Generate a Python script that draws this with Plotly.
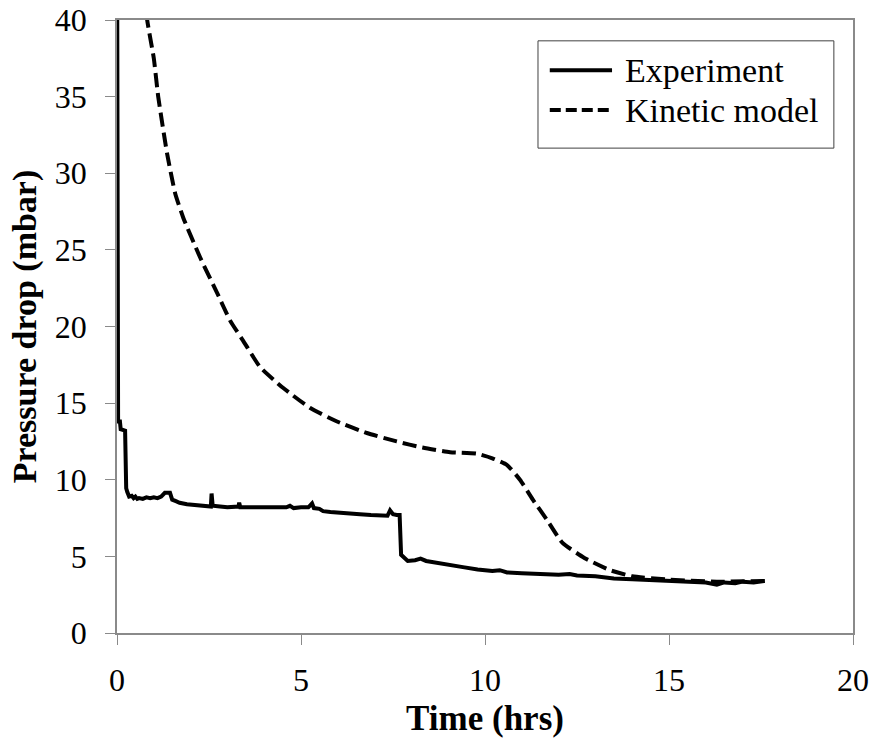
import plotly.graph_objects as go

exp_t = [0.0, 0.01, 0.03, 0.08, 0.1, 0.22, 0.25, 0.28, 0.33, 0.4, 0.45, 0.5, 0.55, 0.6, 0.7, 0.8, 0.9,
         1.0, 1.1, 1.2, 1.3, 1.44, 1.5, 1.6, 1.7, 1.9, 2.1, 2.3, 2.5, 2.55, 2.57, 2.6, 2.8, 3.0, 3.3,
         3.32, 3.35, 3.7, 4.0, 4.3, 4.6, 4.7, 4.8, 5.0, 5.2, 5.3, 5.35, 5.5, 5.6, 5.8, 6.0, 6.3, 6.6,
         6.9, 7.2, 7.35, 7.42, 7.5, 7.6, 7.68, 7.72, 7.8, 7.9, 8.1, 8.25, 8.4, 8.7, 9.0, 9.2, 9.4,
         9.8, 10.2, 10.4, 10.6, 11.0, 11.5, 12.0, 12.3, 12.5, 13.0, 13.5, 14.0, 14.5, 15.0, 15.5,
         16.0, 16.3, 16.5, 16.8, 17.0, 17.3, 17.6]
exp_p = [48, 20, 13.8, 13.8, 13.3, 13.2, 9.45, 9.2, 8.9, 8.95, 8.8, 8.9, 8.75, 8.8, 8.75, 8.85, 8.8,
         8.85, 8.8, 8.9, 9.15, 9.15, 8.7, 8.6, 8.5, 8.4, 8.35, 8.3, 8.3, 8.25, 9.1, 8.3, 8.25, 8.2, 8.25,
         8.5, 8.2, 8.2, 8.15, 8.2, 8.2, 8.3, 8.15, 8.2, 8.2, 8.45, 8.15, 8.1, 7.95, 7.9, 7.85, 7.8, 7.75,
         7.7, 7.65, 7.65, 8.0, 7.75, 7.7, 7.7, 5.1, 4.9, 4.7, 4.75, 4.85, 4.7, 4.6, 4.45, 4.4, 4.3,
         4.15, 4.05, 4.1, 3.95, 3.9, 3.85, 3.8, 3.85, 3.75, 3.7, 3.55, 3.5, 3.45, 3.4, 3.35,
         3.3, 3.15, 3.3, 3.25, 3.35, 3.3, 3.4]

mod_t = [0.7, 0.82, 1.0, 1.12, 1.36, 1.58, 1.8, 2.26, 2.72, 3.07, 3.42, 3.89, 4.51, 5.24, 5.98, 6.79,
         7.6, 8.3, 9.05, 9.78, 10.2, 10.6, 10.95, 11.3, 11.68, 12.1, 12.7, 13.4, 14.0, 14.9, 16.3, 17.65]
mod_p = [43, 40, 37.5, 35, 31.3, 28.7, 27.1, 24.5, 22.2, 20.4, 19.1, 17.35, 16.0, 14.7, 13.8, 13.05,
         12.5, 12.1, 11.8, 11.7, 11.4, 10.96, 10.0, 8.7, 7.4, 5.9, 4.9, 4.1, 3.7, 3.5, 3.35, 3.4]

x_ticks = [0, 5, 10, 15, 20]
y_ticks = [0, 5, 10, 15, 20, 25, 30, 35, 40]
series_names = ["Experiment", "Kinetic model"]

FONT = "Liberation Serif"

fig = go.Figure()
fig.add_trace(go.Scatter(x=exp_t, y=exp_p, mode="lines", name=series_names[0], showlegend=False,
                         line=dict(color="black", width=4)))
fig.add_trace(go.Scatter(x=mod_t, y=mod_p, mode="lines", name=series_names[1], showlegend=False,
                         line=dict(color="black", width=4, dash="14px,6px", shape="spline", smoothing=0.5)))

axis_common = dict(showgrid=False, zeroline=False, showline=True, linecolor="#8a8a8a", linewidth=1.5,
                   mirror=True, ticks="outside", ticklen=10, tickcolor="#8a8a8a", tickwidth=1,
                   automargin=False,
                   tickfont=dict(family=FONT, size=32, color="black"))

fig.update_xaxes(range=[0, 20], tickvals=x_ticks, ticklabelstandoff=8,
                 title=dict(text="<b>Time (hrs)</b>", font=dict(family=FONT, size=35, color="black"), standoff=8),
                 **axis_common)
fig.update_yaxes(range=[0, 40], tickvals=y_ticks, ticklabelstandoff=12,
                 title=dict(text="<b>Pressure drop (mbar)</b>", font=dict(family=FONT, size=34, color="black"), standoff=8),
                 **axis_common)

# manual legend (box, line samples, labels) in paper coordinates
box = dict(x0=0.572, x1=0.974, y0=0.791, y1=0.966)
rows_y = [0.918, 0.853]
dash_styles = ["solid", "11px,5px"]
widths = [4, 4]
shapes = [dict(type="rect", xref="paper", yref="paper", **box,
               line=dict(color="#404040", width=1), fillcolor="white", layer="above")]
annotations = []
for name, yy, ds, w in zip(series_names, rows_y, dash_styles, widths):
    shapes.append(dict(type="line", xref="paper", yref="paper", x0=0.588, x1=0.6726, y0=yy, y1=yy,
                       line=dict(color="black", width=w, dash=ds), layer="above"))
    annotations.append(dict(text=name, xref="paper", yref="paper", x=0.688, y=yy,
                            xanchor="left", yanchor="middle", showarrow=False,
                            font=dict(family=FONT, size=34, color="black")))

fig.update_layout(
    width=877, height=741,
    margin=dict(l=117, r=24, t=20, b=108),
    paper_bgcolor="white", plot_bgcolor="white",
    font=dict(family=FONT, color="black"),
    showlegend=False,
    shapes=shapes,
    annotations=annotations,
)

fig.write_html("out.html")
